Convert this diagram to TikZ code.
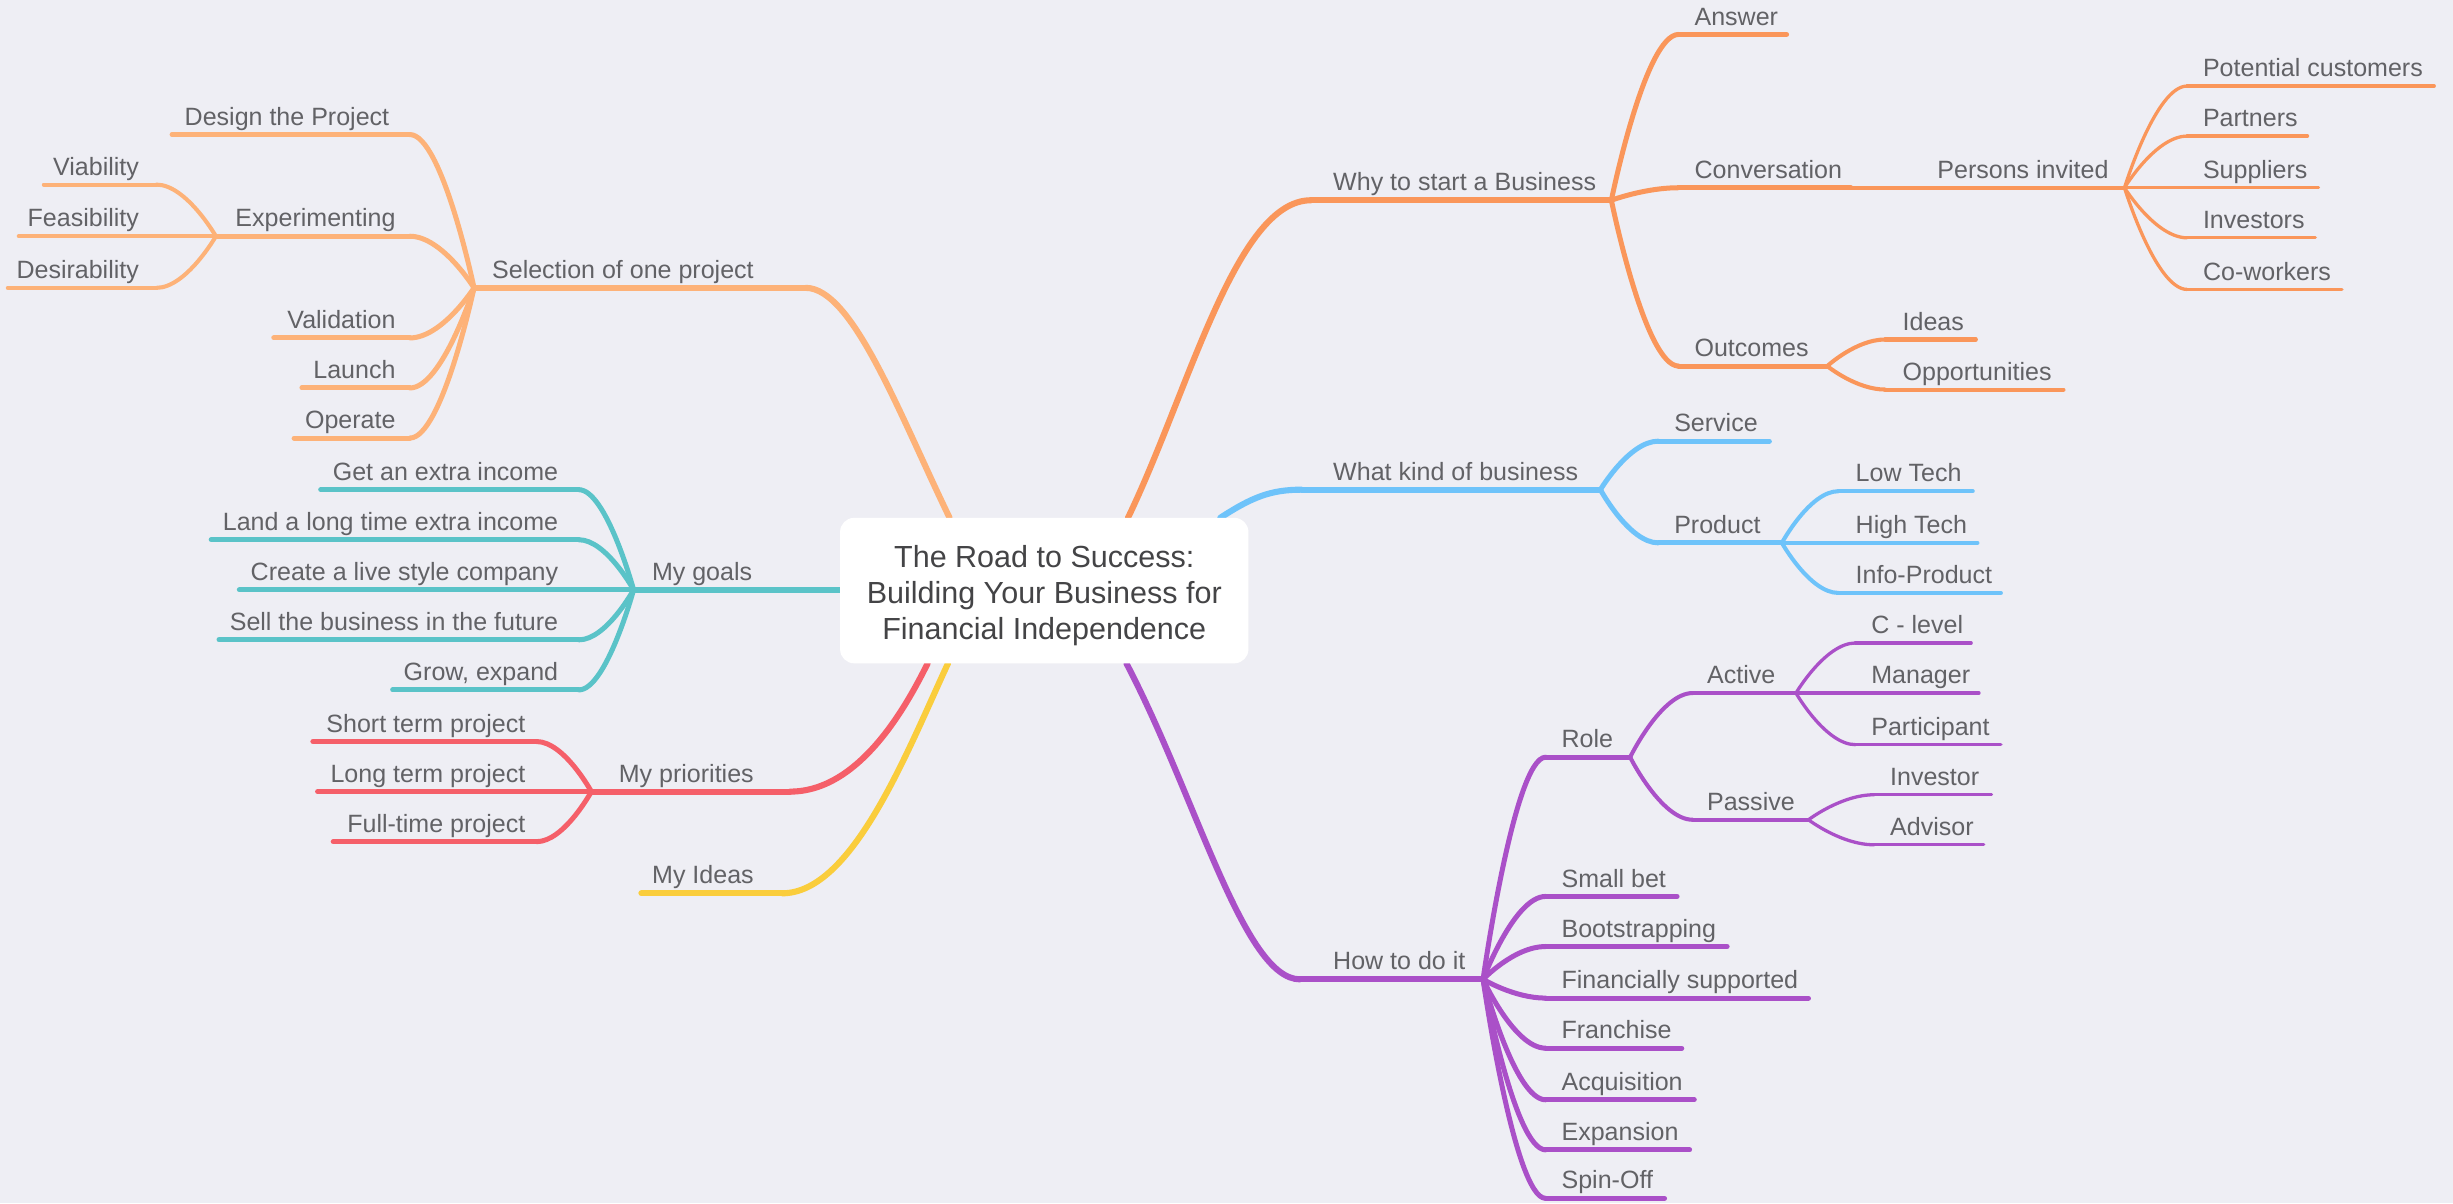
\documentclass[tikz,border=0pt]{standalone}
\usepackage{fontspec}
\setmainfont{Liberation Sans}
\usetikzlibrary{calc}
\definecolor{bgc}{HTML}{EEEEF4}
\definecolor{txt}{HTML}{626266}
\definecolor{ctxt}{HTML}{444446}
\definecolor{peach}{HTML}{FDB278}
\definecolor{orng}{HTML}{FA965A}
\definecolor{sky}{HTML}{6EC3FA}
\definecolor{purp}{HTML}{AA50C8}
\definecolor{cteal}{HTML}{5AC3C8}
\definecolor{cred}{HTML}{F55F69}
\definecolor{cyel}{HTML}{FACD3C}
\pgfdeclarelayer{back}
\pgfdeclarelayer{bg}
\pgfsetlayers{back,bg,main}
\tikzset{
  lbl/.style={font=\fontsize{16}{19}\selectfont,text=txt,inner sep=0pt},
  ln/.style={line cap=round,line join=round},
  L1/.style={ln,line width=3.9pt},
  L2/.style={ln,line width=3.2pt},
  L3/.style={ln,line width=2.6pt},
  L4/.style={ln,line width=2.1pt},
  conn/.style={to path={let \p1=(\tikztostart),\p2=(\tikztotarget) in .. controls (\p1) and ({0.5*\x1+0.5*\x2},\y2) .. (\p2)}},
}
% name, style, x1, x2, y, text x, anchor side, text
\newcommand{\bnode}[8]{%
  \coordinate (#1-l) at (#3,#5);
  \coordinate (#1-r) at (#4,#5);
  \node[lbl,anchor=base #7] (#1) at (#6,#5-6) {#8};
  \begin{pgfonlayer}{bg}\draw[#2] (#1-l) -- (#1-r);\end{pgfonlayer}}
\begin{document}
\begin{tikzpicture}[x=1pt,y=-1pt]
\begin{pgfonlayer}{back}
\fill[bgc] (0,0) rectangle (1568,769);
\end{pgfonlayer}
\useasboundingbox (0,0) rectangle (1568,769);

% centre
\node[fill=white,rounded corners=9pt,minimum width=261pt,minimum height=93pt,inner sep=0pt] (c) at (667.5,377.5) {};
\node[align=center,text=ctxt,inner sep=0pt,font=\fontsize{19.5}{23}\selectfont] (ct) at (667.5,380.5)
  {The Road to Success:\\Building Your Business for\\Financial Independence};
\coordinate (e-sel) at (607,331);
\coordinate (e-why) at (721,331);
\coordinate (e-what) at (780,331);
\coordinate (e-how) at (720,424);
\coordinate (e-pri) at (593,424);
\coordinate (e-idea) at (606,424);

% level 1
\bnode{sel}{L1,peach}{303}{515}{184}{482}{east}{Selection of one project}
\bnode{goals}{L1,cteal}{405}{537}{377}{481}{east}{My goals}
\bnode{pri}{L1,cred}{378}{505}{506}{482}{east}{My priorities}
\bnode{idea}{L1,cyel}{410}{500}{571}{482}{east}{My Ideas}
\bnode{why}{L1,orng}{838}{1030}{128}{852}{west}{Why to start a Business}
\bnode{what}{L1,sky}{832}{1023}{313}{852}{west}{What kind of business}
\bnode{how}{L1,purp}{831}{948}{626}{852}{west}{How to do it}

\begin{pgfonlayer}{bg}
\draw[L1,peach] (e-sel) .. controls (575,265) and (545,184) .. (sel-r);
\draw[L1,cred] (e-pri) .. controls (580,450) and (550,506) .. (pri-r);
\draw[L1,cyel] (e-idea) .. controls (580,480) and (545,571) .. (idea-r);
\draw[L1,orng] (e-why) .. controls (760,250) and (790,128) .. (why-l);
\draw[L1,sky] (e-what) .. controls (800,318) and (812,313) .. (what-l);
\draw[L1,purp] (e-how) .. controls (765,510) and (795,626) .. (how-l);
\end{pgfonlayer}

% Selection of one project
\bnode{des}{L2,peach}{110}{262}{86}{249}{east}{Design the Project}
\bnode{exp}{L2,peach}{138}{262}{151}{253}{east}{Experimenting}
\bnode{val}{L2,peach}{175}{262}{216}{253}{east}{Validation}
\bnode{lau}{L2,peach}{193}{262}{248}{253}{east}{Launch}
\bnode{ope}{L2,peach}{188}{262}{280}{253}{east}{Operate}
\bnode{via}{L3,peach}{28}{100}{118}{89}{east}{Viability}
\bnode{fea}{L3,peach}{12}{138}{151}{89}{east}{Feasibility}
\bnode{dsr}{L3,peach}{5}{100}{184}{89}{east}{Desirability}
\begin{pgfonlayer}{bg}
\draw[L2,peach] (sel-l) to[conn] (des-r);
\draw[L2,peach] (sel-l) to[conn] (exp-r);
\draw[L2,peach] (sel-l) to[conn] (val-r);
\draw[L2,peach] (sel-l) to[conn] (lau-r);
\draw[L2,peach] (sel-l) to[conn] (ope-r);
\draw[L3,peach] (exp-l) to[conn] (via-r);
\draw[L3,peach] (exp-l) to[conn] (dsr-r);
\end{pgfonlayer}

% My goals
\bnode{g1}{L2,cteal}{205}{370}{313}{357}{east}{Get an extra income}
\bnode{g2}{L2,cteal}{135}{370}{345}{357}{east}{Land a long time extra income}
\bnode{g3}{L2,cteal}{153}{405}{377}{357}{east}{Create a live style company}
\bnode{g4}{L2,cteal}{140}{370}{409}{357}{east}{Sell the business in the future}
\bnode{g5}{L2,cteal}{251}{370}{441}{357}{east}{Grow, expand}
\begin{pgfonlayer}{bg}
\draw[L2,cteal] (goals-l) to[conn] (g1-r);
\draw[L2,cteal] (goals-l) to[conn] (g2-r);
\draw[L2,cteal] (goals-l) to[conn] (g4-r);
\draw[L2,cteal] (goals-l) to[conn] (g5-r);
\end{pgfonlayer}

% My priorities
\bnode{p1}{L2,cred}{200}{343}{474}{336}{east}{Short term project}
\bnode{p2}{L2,cred}{203}{378}{506}{336}{east}{Long term project}
\bnode{p3}{L2,cred}{213}{343}{538}{336}{east}{Full-time project}
\begin{pgfonlayer}{bg}
\draw[L2,cred] (pri-l) to[conn] (p1-r);
\draw[L2,cred] (pri-l) to[conn] (p3-r);
\end{pgfonlayer}

% Why to start a Business
\bnode{ans}{L2,orng}{1073}{1142}{22}{1083}{west}{Answer}
\bnode{conv}{L2,orng}{1073}{1183}{120}{1083}{west}{Conversation}
\bnode{outc}{L2,orng}{1073}{1168}{234}{1083}{west}{Outcomes}
\bnode{per}{L3,orng}{1183}{1358}{120}{1348}{east}{Persons invited}
\bnode{pc}{L4,orng}{1398}{1556}{55}{1408}{west}{Potential customers}
\bnode{pa}{L4,orng}{1398}{1475}{87}{1408}{west}{Partners}
\bnode{su}{L4,orng}{1358}{1482}{120}{1408}{west}{Suppliers}
\bnode{ivs}{L4,orng}{1398}{1480}{152}{1408}{west}{Investors}
\bnode{cw}{L4,orng}{1398}{1497}{185}{1408}{west}{Co-workers}
\bnode{ide}{L3,orng}{1205}{1263}{217}{1216}{west}{Ideas}
\bnode{opp}{L3,orng}{1205}{1319}{249}{1216}{west}{Opportunities}
\begin{pgfonlayer}{bg}
\draw[L2,orng] (why-r) to[conn] (ans-l);
\draw[L2,orng] (why-r) to[conn] (conv-l);
\draw[L2,orng] (why-r) to[conn] (outc-l);
\draw[L4,orng] (per-r) to[conn] (pc-l);
\draw[L4,orng] (per-r) to[conn] (pa-l);
\draw[L4,orng] (per-r) to[conn] (ivs-l);
\draw[L4,orng] (per-r) to[conn] (cw-l);
\draw[L3,orng] (outc-r) to[conn] (ide-l);
\draw[L3,orng] (outc-r) to[conn] (opp-l);
\end{pgfonlayer}

% What kind of business
\bnode{serv}{L2,sky}{1060}{1131}{282}{1070}{west}{Service}
\bnode{prod}{L2,sky}{1060}{1139}{347}{1070}{west}{Product}
\bnode{lt}{L3,sky}{1175}{1261}{314}{1186}{west}{Low Tech}
\bnode{ht}{L3,sky}{1139}{1264}{347}{1186}{west}{High Tech}
\bnode{ip}{L3,sky}{1175}{1279}{379}{1186}{west}{Info-Product}
\begin{pgfonlayer}{bg}
\draw[L2,sky] (what-r) to[conn] (serv-l);
\draw[L2,sky] (what-r) to[conn] (prod-l);
\draw[L3,sky] (prod-r) to[conn] (lt-l);
\draw[L3,sky] (prod-r) to[conn] (ip-l);
\end{pgfonlayer}

% How to do it
\bnode{role}{L2,purp}{988}{1042}{484}{998}{west}{Role}
\bnode{sb}{L2,purp}{988}{1072}{573}{998}{west}{Small bet}
\bnode{bs}{L2,purp}{988}{1104}{605}{998}{west}{Bootstrapping}
\bnode{fs}{L2,purp}{988}{1156}{638}{998}{west}{Financially supported}
\bnode{fr}{L2,purp}{988}{1075}{670}{998}{west}{Franchise}
\bnode{acq}{L2,purp}{988}{1083}{703}{998}{west}{Acquisition}
\bnode{exn}{L2,purp}{988}{1080}{735}{998}{west}{Expansion}
\bnode{so}{L2,purp}{988}{1064}{766}{998}{west}{Spin-Off}
\bnode{act}{L3,purp}{1082}{1148}{443}{1091}{west}{Active}
\bnode{pas}{L3,purp}{1082}{1156}{524}{1091}{west}{Passive}
\bnode{cl}{L4,purp}{1186}{1260}{411}{1196}{west}{C - level}
\bnode{man}{L4,purp}{1148}{1265}{443}{1196}{west}{Manager}
\bnode{par}{L4,purp}{1186}{1279}{476}{1196}{west}{Participant}
\bnode{ivr}{L4,purp}{1198}{1273}{508}{1208}{west}{Investor}
\bnode{adv}{L4,purp}{1198}{1268}{540}{1208}{west}{Advisor}
\begin{pgfonlayer}{bg}
\foreach \k in {role,sb,bs,fs,fr,acq,exn,so}{\draw[L2,purp] (how-r) to[conn] (\k-l);}
\draw[L3,purp] (role-r) to[conn] (act-l);
\draw[L3,purp] (role-r) to[conn] (pas-l);
\draw[L4,purp] (act-r) to[conn] (cl-l);
\draw[L4,purp] (act-r) to[conn] (par-l);
\draw[L4,purp] (pas-r) to[conn] (ivr-l);
\draw[L4,purp] (pas-r) to[conn] (adv-l);
\end{pgfonlayer}
\end{tikzpicture}
\end{document}
